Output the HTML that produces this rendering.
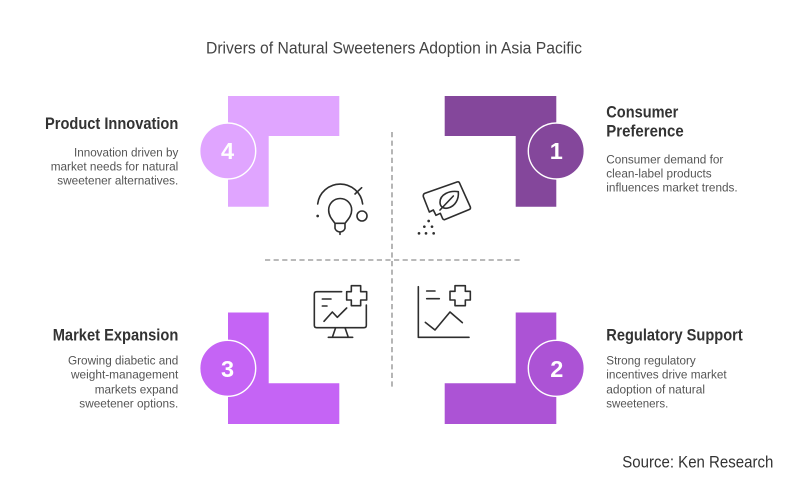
<!DOCTYPE html>
<html><head><meta charset="utf-8"><style>
html,body{margin:0;padding:0;background:#fff;width:788px;height:483px;overflow:hidden}
svg{display:block}
text{font-family:"Liberation Sans",sans-serif}
.h{font-size:16.5px;font-weight:700;fill:#333}
.d{font-size:12.4px;fill:#555}
.i{fill:none;stroke:#2e2e2e;stroke-width:4.8;stroke-linecap:round;stroke-linejoin:round}
.n{font-size:23.5px;font-weight:700;fill:#fff;text-anchor:middle}
</style></head><body>
<svg width="788" height="483" viewBox="0 0 788 483" xmlns="http://www.w3.org/2000/svg">
<rect width="788" height="483" fill="#fff"/>
<text x="206" y="53.3" font-size="16.5" fill="#444" textLength="376" lengthAdjust="spacingAndGlyphs">Drivers of Natural Sweeteners Adoption in Asia Pacific</text>

<path d="M392 132V387M265 260H520" stroke="#a3a3a3" stroke-width="1.6" stroke-dasharray="5.2 3.4" fill="none"/>

<path d="M228 96H339.3V136H268.7V206.7H228Z" fill="#E0A5FF"/>
<circle cx="227.7" cy="151" r="28" fill="#E0A5FF" stroke="#fff" stroke-width="1.4"/>
<text class="n" x="227.5" y="159.2">4</text>

<path d="M444.7 96H556.3V206.7H515.7V136H444.7Z" fill="#84479B"/>
<circle cx="556.3" cy="151" r="28" fill="#84479B" stroke="#fff" stroke-width="1.4"/>
<text class="n" x="556.3" y="159.2">1</text>

<path d="M228 312.5H268.7V383.3H339.3V424H228Z" fill="#C564F5"/>
<circle cx="227.7" cy="368.3" r="28" fill="#C564F5" stroke="#fff" stroke-width="1.4"/>
<text class="n" x="227.5" y="376.8">3</text>

<path d="M515.7 312.5H556.3V424H444.7V383.3H515.7Z" fill="#AC53D5"/>
<circle cx="556.3" cy="368.3" r="28" fill="#AC53D5" stroke="#fff" stroke-width="1.4"/>
<text class="n" x="556.8" y="376.8">2</text>

<g transform="translate(190 85) scale(.33333)">
<path class="i" d="M383 357A68 68 0 0 1 518 357M495 327L515 308"/>
<circle class="i" cx="516" cy="393" r="15"/>
<circle cx="383" cy="393" r="4" fill="#2e2e2e"/>
<path class="i" d="M435 415C425 402 416 392 416 375A34 34 0 0 1 485 375C485 392 475 402 465 415V430Q462 440 450 441Q438 440 435 430ZM435 415H465M450 441V448"/>
</g>
<g transform="translate(390 85) scale(.33333)">
<path class="i" d="M104 325L201 291Q207 289 209 295L241 366Q243 372 237 374L164 404Q160 405 158 401L151 385L138 391L130 375L118 381L100 335Q99 327 104 325Z"/>
<path class="i" d="M205 320C178 316 150 328 150 352C150 366 162 372 174 369C196 364 207 342 205 320ZM150 375L190 333"/>
<g fill="#2e2e2e"><circle cx="116" cy="408" r="4"/><circle cx="103" cy="425" r="4"/><circle cx="126" cy="425" r="4"/><circle cx="87" cy="445" r="4"/><circle cx="108" cy="445" r="4"/><circle cx="131" cy="445" r="4"/></g>
</g>
<g transform="translate(190 250) scale(.33333)">
<path class="i" d="M455 125H380Q373 125 373 132V226Q373 233 380 233H522Q529 233 529 226V165M437 233L427 262M465 233L475 262M415 262H488M397 147H423M397 168H411M402 214L427 186L442 202L470 174"/>
<path class="i" d="M484 107H512V125H530V150H512V167H484V150H470V125H484Z"/>
</g>
<g transform="translate(390 250) scale(.33333)">
<path class="i" d="M85 110V262H237M110 123H135M110 146H148M106 217L135 240L180 186L217 218"/>
<path class="i" d="M195 107H226V124H241V150H226V167H195V150H180V124H195Z"/>
</g>

<text class="h" x="45" y="129" textLength="133.3" lengthAdjust="spacingAndGlyphs">Product Innovation</text>
<text class="d" x="74" y="156.7" textLength="104.3" lengthAdjust="spacingAndGlyphs">Innovation driven by</text>
<text class="d" x="50.7" y="170.7" textLength="127.6" lengthAdjust="spacingAndGlyphs">market needs for natural</text>
<text class="d" x="57.3" y="184.3" textLength="121" lengthAdjust="spacingAndGlyphs">sweetener alternatives.</text>

<text class="h" x="606.3" y="117.7" textLength="72" lengthAdjust="spacingAndGlyphs">Consumer</text>
<text class="h" x="606.3" y="136.3" textLength="77.4" lengthAdjust="spacingAndGlyphs">Preference</text>
<text class="d" x="606.3" y="163.3" textLength="117" lengthAdjust="spacingAndGlyphs">Consumer demand for</text>
<text class="d" x="606.3" y="177.3" textLength="105.4" lengthAdjust="spacingAndGlyphs">clean-label products</text>
<text class="d" x="606.3" y="191.7" textLength="131.4" lengthAdjust="spacingAndGlyphs">influences market trends.</text>

<text class="h" x="52.7" y="340.3" textLength="125.6" lengthAdjust="spacingAndGlyphs">Market Expansion</text>
<text class="d" x="68" y="364.7" textLength="110.3" lengthAdjust="spacingAndGlyphs">Growing diabetic and</text>
<text class="d" x="71" y="378.7" textLength="107.3" lengthAdjust="spacingAndGlyphs">weight-management</text>
<text class="d" x="94.7" y="393.3" textLength="83.6" lengthAdjust="spacingAndGlyphs">markets expand</text>
<text class="d" x="79.3" y="407.7" textLength="99" lengthAdjust="spacingAndGlyphs">sweetener options.</text>

<text class="h" x="606.3" y="340.3" textLength="136.4" lengthAdjust="spacingAndGlyphs">Regulatory Support</text>
<text class="d" x="606.3" y="364.7" textLength="89.4" lengthAdjust="spacingAndGlyphs">Strong regulatory</text>
<text class="d" x="606.3" y="378.7" textLength="120.4" lengthAdjust="spacingAndGlyphs">incentives drive market</text>
<text class="d" x="606.3" y="393.3" textLength="98.7" lengthAdjust="spacingAndGlyphs">adoption of natural</text>
<text class="d" x="606.3" y="407.7" textLength="62" lengthAdjust="spacingAndGlyphs">sweeteners.</text>

<text x="622.3" y="467.7" font-size="16.5" fill="#333" textLength="151" lengthAdjust="spacingAndGlyphs">Source: Ken Research</text>
</svg>
</body></html>
